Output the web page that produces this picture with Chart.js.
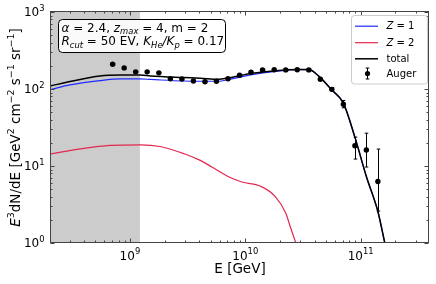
<!DOCTYPE html>
<html><head><meta charset="utf-8">
<script src="https://cdn.jsdelivr.net/npm/chart.js@4/dist/chart.umd.min.js"></script>
<style>html,body{margin:0;padding:0;background:#fff;}#wrap{width:436px;height:284px;}</style>
</head><body><div id="wrap"><canvas id="c" width="436" height="284"></canvas></div>
<script>
// ---- data ----
const xRange = [2.07e8, 3.91e11];
const yRange = [1, 1000];
const shadeEnd = 1.22e9;
const xTickLabels = ['10^9', '10^10', '10^11'];
const xTickValues = [1e9, 1e10, 1e11];
const yTickLabels = ['10^0', '10^1', '10^2', '10^3'];
const yTickValues = [1, 10, 100, 1000];
const seriesLabels = ['Z = 1', 'Z = 2', 'total', 'Auger'];
const xTitle = 'E [GeV]';

const modelE = [2.07e8, 3.02e8, 5.5e8, 8.3e8, 1.23e9, 1.51e9, 2.88e9, 4.07e9, 5.89e9, 7.08e9, 9.12e9, 1.15e10, 1.82e10, 2.88e10, 3.55e10, 4.37e10, 5.62e10, 7.08e10, 8.91e10, 1.12e11, 1.41e11, 1.62e11, 1.78e11];
const totalFlux = [110, 125, 148, 152, 152, 148, 141, 138, 134, 139, 150, 160, 173, 179, 179, 145, 97, 65.5, 23.7, 7.3, 2.57, 1.0, 0.56];
const z1Flux = [99, 113, 128.5, 135, 135, 133, 127, 126, 126, 132, 143, 154, 169, 178, 178, 145, 97, 65.5, 23.7, 7.3, 2.57, 1.0, 0.56];

const z2E = [2.07e8, 3.72e8, 6.76e8, 1.23e9, 1.82e9, 2.95e9, 3.98e9, 5.13e9, 7.24e9, 9.33e9, 1.38e10, 1.82e10, 2.24e10, 2.45e10, 2.75e10, 3.16e10];
const z2Flux = [14.4, 16.7, 18.5, 18.8, 17.9, 14.4, 12.0, 9.7, 7.2, 6.2, 5.4, 4.0, 2.45, 1.64, 0.98, 0.5];

const augerE = [7.08e8, 8.91e8, 1.12e9, 1.41e9, 1.78e9, 2.24e9, 2.82e9, 3.55e9, 4.47e9, 5.62e9, 7.08e9, 8.91e9, 1.12e10, 1.41e10, 1.78e10, 2.24e10, 2.82e10, 3.55e10, 4.47e10, 5.62e10, 7.08e10, 8.91e10, 1.12e11, 1.41e11];
const augerFlux = [210, 188, 167, 167, 162, 136, 135, 127, 124, 126, 136, 151, 165, 177, 178, 177, 178, 177, 134, 99, 63.5, 18.3, 16.1, 6.3];
const augerErrUp = [4, 4, 3, 3, 3, 3, 3, 3, 3, 3, 3, 3, 3, 3, 3, 4, 4, 4, 4, 5, 7.5, 5.4, 10.6, 10.3];
const augerErrDown = [4, 4, 3, 3, 3, 3, 3, 3, 3, 3, 3, 3, 3, 3, 3, 4, 4, 4, 4, 5, 6.5, 6.0, 6.4, 3.7];

const annotLine1 = [['α', 'it'], [' = 2.4, '], ['z', 'it'], ['max', 'it sub'], [' = 4, m = 2']];
const annotLine2 = [['R', 'it'], ['cut', 'it sub'], [' = 50 EV, '], ['K', 'it'], ['He', 'it sub'], ['/', 'it'], ['K', 'it'], ['p', 'it sub'], [' = 0.17']];
const yTitleSegs = [['E', 'it'], ['3', 'sup'], ['dN/dE [GeV'], ['2', 'sup'], [' cm'], ['−2', 'sup'], [' s'], ['−1', 'sup'], [' sr'], ['−1', 'sup'], [']']];

// ---- styling ----
const FONT = '"DejaVu Sans", sans-serif';
const C_BLUE = '#1f2bff', C_RED = '#e3284f', C_BLACK = '#000000';

function toPts(xs, ys) { return xs.map((x, i) => ({x: x, y: ys[i]})); }

function drawRich(ctx, segs, x, y, size, align) {
  let w = 0;
  const parts = segs.map(s => {
    const fl = s[1] || '';
    const small = fl.includes('sup') || fl.includes('sub');
    const fs = small ? size * 0.7 : size;
    const font = (fl.includes('it') ? 'italic ' : '') + fs + 'px ' + FONT;
    ctx.font = font;
    const mw = ctx.measureText(s[0]).width;
    w += mw;
    return {t: s[0], font, mw, dy: fl.includes('sup') ? -size * 0.42 : fl.includes('sub') ? size * 0.22 : 0};
  });
  let cx = align === 'center' ? x - w / 2 : align === 'right' ? x - w : x;
  ctx.textAlign = 'left';
  ctx.textBaseline = 'alphabetic';
  for (const p of parts) { ctx.font = p.font; ctx.fillText(p.t, cx, y + p.dy); cx += p.mw; }
  return w;
}
function powSegs(lbl) { const p = lbl.split('^'); return [[p[0]], [p[1], 'sup']]; }
function minorVals(lo, hi) {
  const out = [];
  for (let e = Math.floor(Math.log10(lo)); e <= Math.ceil(Math.log10(hi)); e++) {
    for (let k = 1; k <= 9; k++) { const v = k * Math.pow(10, e); if (v >= lo * 0.9999 && v <= hi * 1.0001) out.push({v, major: k === 1}); }
  }
  return out;
}
function roundRect(ctx, x, y, w, h, r) {
  ctx.beginPath();
  ctx.moveTo(x + r, y); ctx.lineTo(x + w - r, y); ctx.arcTo(x + w, y, x + w, y + r, r);
  ctx.lineTo(x + w, y + h - r); ctx.arcTo(x + w, y + h, x + w - r, y + h, r);
  ctx.lineTo(x + r, y + h); ctx.arcTo(x, y + h, x, y + h - r, r);
  ctx.lineTo(x, y + r); ctx.arcTo(x, y, x + r, y, r); ctx.closePath();
}

const decor = {
  id: 'decor',
  beforeDatasetsDraw(chart) {
    const {ctx, chartArea: a, scales: {x}} = chart;
    ctx.save();
    ctx.fillStyle = '#cccccc';
    const xe = x.getPixelForValue(shadeEnd);
    ctx.fillRect(a.left, a.top, xe - a.left, a.bottom - a.top);
    ctx.restore();
  },
  beforeDatasetDraw(chart, args) {
    if (args.index !== 3) return;
    const {ctx, scales: {x, y}} = chart;
    ctx.save();
    ctx.beginPath(); ctx.rect(chart.chartArea.left, chart.chartArea.top, chart.chartArea.width, chart.chartArea.height); ctx.clip();
    ctx.strokeStyle = '#000'; ctx.lineWidth = 1;
    augerE.forEach((e, i) => {
      const px = Math.round(x.getPixelForValue(e)) + 0.5;
      const y1 = y.getPixelForValue(augerFlux[i] + augerErrUp[i]);
      const y2 = y.getPixelForValue(augerFlux[i] - augerErrDown[i]);
      ctx.beginPath();
      ctx.moveTo(px, y1); ctx.lineTo(px, y2);
      ctx.moveTo(px - 1.8, y1); ctx.lineTo(px + 1.8, y1);
      ctx.moveTo(px - 1.8, y2); ctx.lineTo(px + 1.8, y2);
      ctx.stroke();
    });
    ctx.restore();
  },
  afterDraw(chart) {
    const {ctx, chartArea: a, scales: {x, y}} = chart;
    ctx.save();
    // frame
    ctx.strokeStyle = '#444'; ctx.lineWidth = 1;
    const L = Math.round(a.left) - 0.5, R = Math.round(a.right) - 0.5, T = Math.round(a.top) - 0.5, B = Math.round(a.bottom) - 0.5;
    ctx.strokeRect(L, T, R - L, B - T);
    // ticks
    ctx.beginPath();
    minorVals(xRange[0], xRange[1]).forEach(t => {
      const px = Math.round(x.getPixelForValue(t.v)) + 0.5; const len = t.major ? 4 : 2;
      ctx.moveTo(px, B); ctx.lineTo(px, B - len); ctx.moveTo(px, T); ctx.lineTo(px, T + len);
    });
    minorVals(yRange[0], yRange[1]).forEach(t => {
      const py = Math.round(y.getPixelForValue(t.v)) + 0.5; const len = t.major ? 4 : 2;
      ctx.moveTo(L, py); ctx.lineTo(L + len, py); ctx.moveTo(R, py); ctx.lineTo(R - len, py);
    });
    ctx.stroke();
    // tick labels
    ctx.fillStyle = '#000';
    xTickValues.forEach((v, i) => drawRich(ctx, powSegs(xTickLabels[i]), x.getPixelForValue(v), 259.5, 12, 'center'));
    yTickValues.forEach((v, i) => drawRich(ctx, powSegs(yTickLabels[i]), 44.5, y.getPixelForValue(v) + 4.4, 12, 'right'));
    // axis titles
    drawRich(ctx, [[xTitle]], (a.left + a.right) / 2, 273, 13.5, 'center');
    ctx.save();
    ctx.translate(20, (a.top + a.bottom) / 2);
    ctx.rotate(-Math.PI / 2);
    drawRich(ctx, yTitleSegs, 0, 0, 13.5, 'center');
    ctx.restore();
    // annotation box
    roundRect(ctx, 58.5, 19.5, 167, 33, 4);
    ctx.fillStyle = 'rgba(255,255,255,0.9)'; ctx.fill();
    ctx.strokeStyle = '#000'; ctx.lineWidth = 1; ctx.stroke();
    ctx.fillStyle = '#000';
    drawRich(ctx, annotLine1, 61.5, 31.8, 12, 'left');
    drawRich(ctx, annotLine2, 61.5, 45.2, 12, 'left');
    // legend
    roundRect(ctx, 351.5, 15.5, 76, 68.5, 3);
    ctx.fillStyle = 'rgba(255,255,255,0.85)'; ctx.fill();
    ctx.strokeStyle = '#cccccc'; ctx.stroke();
    const rows = [25.7, 42.2, 58.3, 73.5];
    const cols = [C_BLUE, C_RED, C_BLACK];
    for (let i = 0; i < 3; i++) {
      ctx.strokeStyle = cols[i]; ctx.lineWidth = i === 2 ? 1.5 : 1.2;
      ctx.beginPath(); ctx.moveTo(355, rows[i] + 0.5); ctx.lineTo(378, rows[i] + 0.5); ctx.stroke();
    }
    ctx.strokeStyle = '#000'; ctx.lineWidth = 1;
    ctx.beginPath();
    ctx.moveTo(367.5, rows[3] - 5.5); ctx.lineTo(367.5, rows[3] + 5.5);
    ctx.moveTo(365.7, rows[3] - 5.5); ctx.lineTo(369.3, rows[3] - 5.5);
    ctx.moveTo(365.7, rows[3] + 5.5); ctx.lineTo(369.3, rows[3] + 5.5);
    ctx.stroke();
    ctx.fillStyle = '#000';
    ctx.beginPath(); ctx.arc(367.5, rows[3], 2.6, 0, Math.PI * 2); ctx.fill();
    seriesLabels.forEach((lbl, i) => {
      let segs = [[lbl]];
      if (lbl.startsWith('Z')) segs = [['Z', 'it'], [lbl.slice(1)]];
      drawRich(ctx, segs, 386.5, rows[i] + 3.6, 10, 'left');
    });
    ctx.restore();
  }
};

new Chart(document.getElementById('c'), {
  type: 'scatter',
  data: {
    datasets: [
      {label: seriesLabels[0], data: toPts(modelE, z1Flux), showLine: true, borderColor: C_BLUE, borderWidth: 1.2, pointRadius: 0, cubicInterpolationMode: 'monotone', order: 3},
      {label: seriesLabels[1], data: toPts(z2E, z2Flux), showLine: true, borderColor: C_RED, borderWidth: 1.2, pointRadius: 0, cubicInterpolationMode: 'monotone', order: 2},
      {label: seriesLabels[2], data: toPts(modelE, totalFlux), showLine: true, borderColor: C_BLACK, borderWidth: 1.5, pointRadius: 0, cubicInterpolationMode: 'monotone', order: 1},
      {label: seriesLabels[3], data: toPts(augerE, augerFlux), showLine: false, backgroundColor: '#000', borderWidth: 0, pointRadius: 2.7, order: 0}
    ]
  },
  options: {
    responsive: false, animation: false, devicePixelRatio: 1, events: [],
    layout: {padding: {left: 51, right: 7, top: 12, bottom: 41}},
    plugins: {legend: {display: false}, tooltip: {enabled: false}},
    scales: {
      x: {type: 'logarithmic', min: xRange[0], max: xRange[1], display: false},
      y: {type: 'logarithmic', min: yRange[0], max: yRange[1], display: false}
    }
  },
  plugins: [decor]
});
</script></body></html>
